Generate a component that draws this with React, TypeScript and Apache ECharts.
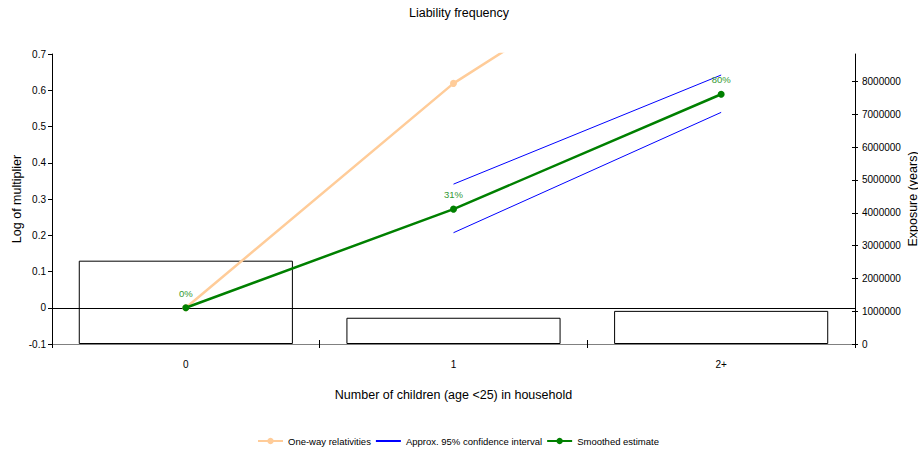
import React, { useEffect, useRef } from "react";
import * as echarts from "echarts";

const categories = ["0", "1", "2+"];
const exposure = [2540000, 800000, 1010000];
const oneWay = [0, 0.619, 1.09];
const ciUpper = [null, 0.341, 0.642];
const ciLower = [null, 0.207, 0.539];
const smoothed = [0, 0.272, 0.589];
const smoothedLabels = ["0%", "31%", "80%"];
const leftTicks = { min: -0.1, max: 0.7, interval: 0.1 };
const rightTickValues = [0, 1000000, 2000000, 3000000, 4000000, 5000000, 6000000, 7000000, 8000000];
const rightMax = 8840000;

const FONT = "'Liberation Sans', Arial, sans-serif";

export default function App() {
  const ref = useRef<HTMLDivElement>(null);
  useEffect(() => {
    if (!ref.current) return;
    const chart = echarts.init(ref.current, null, { renderer: "svg" });
    const grid = { left: 52, right: 63, top: 54, bottom: 109, containLabel: false, outerBoundsMode: "none" };
    chart.setOption({
      animation: false,
      backgroundColor: "#fff",
      textStyle: { fontFamily: FONT },
      title: {
        text: "Liability frequency",
        left: "center",
        top: 6,
        padding: 0,
        textStyle: { fontSize: 12.5, fontWeight: "normal", color: "#000", fontFamily: FONT },
      },
      legend: {
        left: 257,
        top: 436,
        itemWidth: 25,
        itemHeight: 8,
        itemGap: 4,
        padding: 0,
        textStyle: { fontSize: 9.5, color: "#000", fontFamily: FONT },
        data: [
          "One-way relativities",
          { name: "Approx. 95% confidence interval", itemStyle: { opacity: 0 } },
          "Smoothed estimate",
        ],
      },
      grid,
      xAxis: [
        {
          type: "category",
          data: categories,
          boundaryGap: true,
          axisLine: { onZero: false, lineStyle: { color: "#808080", width: 1 } },
          axisTick: { show: true, length: 4, lineStyle: { color: "#000" } },
          axisLabel: { margin: 15, fontSize: 10, color: "#000", fontFamily: FONT },
          name: "Number of children (age <25) in household",
          nameLocation: "middle",
          nameGap: 44,
          nameMoveOverlap: false,
          nameTextStyle: { fontSize: 12.5, color: "#000", fontFamily: FONT },
          splitLine: { show: false },
        },
        {
          type: "category",
          data: categories,
          position: "bottom",
          boundaryGap: true,
          axisLine: { show: false, onZero: false },
          axisTick: { show: true, inside: true, length: 4, lineStyle: { color: "#000" } },
          axisLabel: { show: false },
          splitLine: { show: false },
        },
      ],
      yAxis: [
        {
          type: "value",
          min: leftTicks.min,
          max: leftTicks.max,
          interval: leftTicks.interval,
          position: "left",
          axisLine: { show: true, lineStyle: { color: "#000" } },
          axisTick: { show: true, length: 4, lineStyle: { color: "#000" } },
          axisLabel: {
            margin: 6,
            fontSize: 10,
            color: "#000",
            fontFamily: FONT,
            formatter: (v: number) => String(Math.round(v * 10) / 10),
          },
          splitLine: { show: false },
          name: "Log of multiplier",
          nameLocation: "middle",
          nameGap: 29,
          nameRotate: 90,
          nameMoveOverlap: false,
          nameTextStyle: { fontSize: 12.5, color: "#000", fontFamily: FONT },
        },
        {
          type: "value",
          min: 0,
          max: rightMax,
          interval: 1000000,
          position: "right",
          axisLine: { show: true, lineStyle: { color: "#000" } },
          axisTick: { show: true, length: 3, customValues: rightTickValues, lineStyle: { color: "#000" } },
          axisLabel: {
            margin: 7,
            fontSize: 10,
            color: "#000",
            fontFamily: FONT,
            customValues: rightTickValues,
            formatter: (v: number) => String(Math.round(v)),
          },
          splitLine: { show: false },
          name: "Exposure (years)",
          nameLocation: "middle",
          nameGap: 51,
          nameRotate: 90,
          nameMoveOverlap: false,
          nameTextStyle: { fontSize: 12.5, color: "#000", fontFamily: FONT },
        },
        {
          type: "value",
          min: 0,
          max: rightMax,
          interval: 1000000,
          position: "right",
          offset: 0,
          axisLine: { show: false },
          axisTick: { show: true, inside: true, length: 3, customValues: rightTickValues, lineStyle: { color: "#000" } },
          axisLabel: { show: false },
          splitLine: { show: false },
        },
      ],
      series: [
        {
          name: "Exposure",
          type: "bar",
          xAxisIndex: 0,
          yAxisIndex: 1,
          data: exposure,
          barWidth: "80%",
          itemStyle: { color: "#fff", borderColor: "#000", borderWidth: 1 },
          z: 1,
        },
        {
          name: "One-way relativities",
          type: "line",
          yAxisIndex: 0,
          data: oneWay,
          color: "#FFCC99",
          lineStyle: { color: "#FFCC99", width: 2.5 },
          itemStyle: { color: "#FFCC99" },
          symbol: "circle",
          symbolSize: 7,
          clip: true,
          z: 3,
        },
        {
          name: "Approx. 95% confidence interval",
          type: "line",
          yAxisIndex: 0,
          data: ciUpper,
          color: "#0000FF",
          lineStyle: { color: "#0000FF", width: 1 },
          symbol: "none",
          z: 3,
        },
        {
          name: "Approx. 95% confidence interval",
          type: "line",
          yAxisIndex: 0,
          data: ciLower,
          color: "#0000FF",
          lineStyle: { color: "#0000FF", width: 1 },
          symbol: "none",
          z: 3,
        },
        {
          name: "Smoothed estimate",
          type: "line",
          yAxisIndex: 0,
          data: smoothed,
          color: "#008000",
          lineStyle: { color: "#008000", width: 2.5 },
          itemStyle: { color: "#008000" },
          symbol: "circle",
          symbolSize: 7,
          z: 4,
          label: {
            show: true,
            position: "top",
            distance: 6,
            fontSize: 9.5,
            color: "#339933",
            fontFamily: FONT,
            formatter: (p: any) => smoothedLabels[p.dataIndex],
          },
          markLine: {
            silent: true,
            symbol: "none",
            label: { show: false },
            lineStyle: { color: "#000", width: 1, type: "solid" },
            data: [{ yAxis: 0 }],
            z: 2,
          },
        },
      ],
    });
    return () => chart.dispose();
  }, []);
  return (
    <div
      ref={ref}
      style={{ position: "fixed", left: 0, top: 0, width: 918, height: 453 }}
    />
  );
}
